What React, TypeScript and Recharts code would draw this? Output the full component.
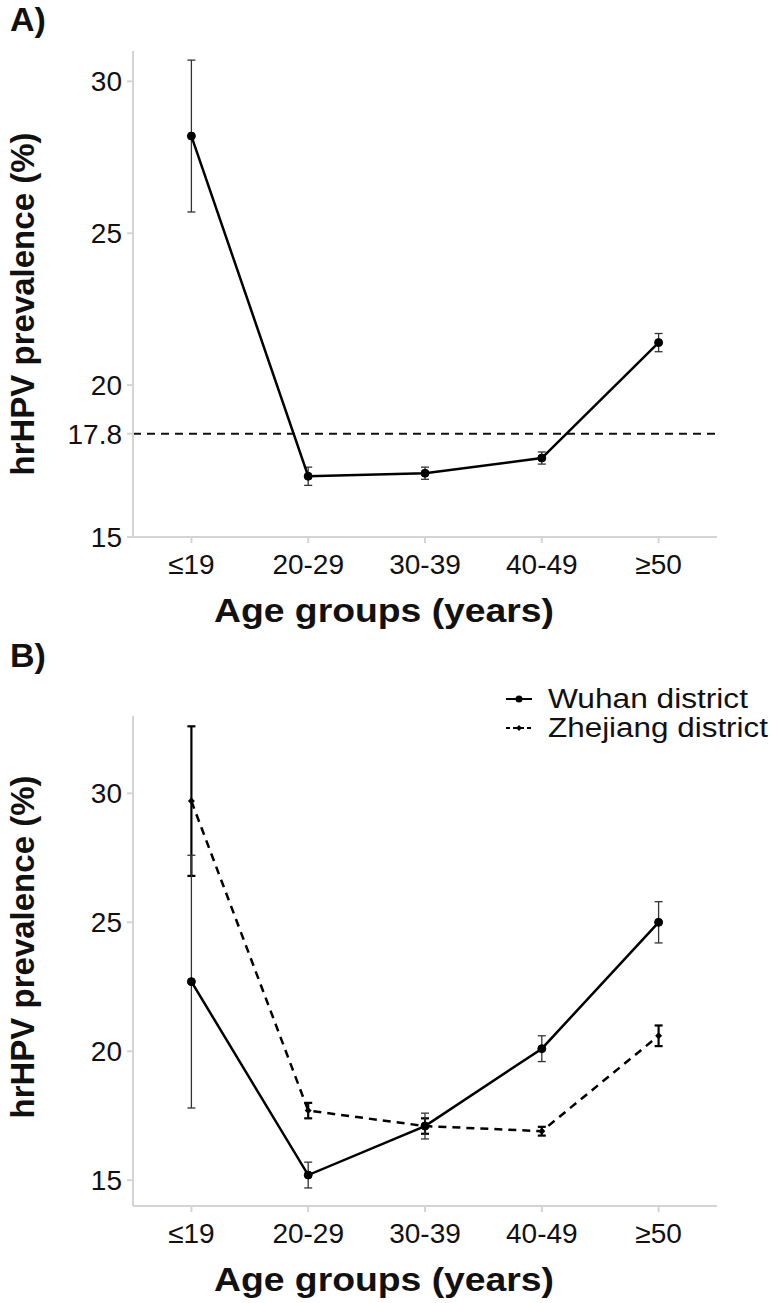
import React from "react";
import {
  ComposedChart,
  Line,
  XAxis,
  YAxis,
  ErrorBar,
  ReferenceLine,
  Legend,
  Label,
} from "recharts";

const ageGroups = ["≤19", "20-29", "30-39", "40-49", "≥50"];

// A) all samples
const overallPrev = [28.2, 17.0, 17.1, 17.6, 21.4];
const overallErr = [2.5, 0.3, 0.2, 0.2, 0.3];
const overallMeanText = "17.8";
const overallMeanPos = 18.4; // height where the dashed line is drawn in the figure

// B) by district
const districtNames = ["Wuhan district", "Zhejiang district"];
const wuhanPrev = [22.7, 15.2, 17.1, 20.1, 25.0];
const wuhanErr = [4.9, 0.5, 0.5, 0.5, 0.8];
const zhejiangPrev = [29.7, 17.7, 17.1, 16.9, 20.6];
const zhejiangErr = [2.9, 0.3, 0.3, 0.17, 0.4];

const ticksA = [15, overallMeanPos, 20, 25, 30];
const ticksB = [15, 20, 25, 30];

const dataA = ageGroups.map((g, i) => ({
  group: g,
  prev: overallPrev[i],
  err: overallErr[i],
}));

const dataB = ageGroups.map((g, i) => ({
  group: g,
  wuhan: wuhanPrev[i],
  wuhanErr: wuhanErr[i],
  zhejiang: zhejiangPrev[i],
  zhejiangErr: zhejiangErr[i],
}));

const FONT = '"Liberation Sans", Arial, Helvetica, sans-serif';
const GREY = "#d4d4d4";
const tickStyle = { fill: "#111", fontSize: 28, fontFamily: FONT };

const Title = ({ text, x, y, angle = 0, len }: any) => (
  <text
    x={x}
    y={y}
    textAnchor="middle"
    dominantBaseline="central"
    transform={angle ? `rotate(${angle} ${x} ${y})` : undefined}
    fontFamily={FONT}
    fontWeight="bold"
    fontSize={33}
    fill="#111"
    textLength={len}
    lengthAdjust={len ? "spacingAndGlyphs" : undefined}
  >
    {text}
  </text>
);

const Diamond = (props: any) => {
  const { cx, cy, index } = props;
  if (cx == null || cy == null) return <g key={`d-${index}`} />;
  const s = 3.5;
  return (
    <path
      key={`d-${index}`}
      d={`M${cx},${cy - s}L${cx + s},${cy}L${cx},${cy + s}L${cx - s},${cy}Z`}
      fill="#000"
    />
  );
};

// legend drawn as svg so the text can be stretched like the figure's
const LegendB = () => (
  <svg width={280} height={62} style={{ display: "block" }}>
    {districtNames.map((name, i) => {
      const y = 15 + i * 29;
      return (
        <g key={name}>
          <line
            x1={6}
            x2={32}
            y1={y}
            y2={y}
            stroke="#000"
            strokeWidth={2}
            strokeDasharray={i === 1 ? "4 3" : undefined}
          />
          {i === 0 ? (
            <circle cx={19} cy={y} r={3.5} fill="#000" />
          ) : (
            <path d={`M19,${y - 3}L22,${y}L19,${y + 3}L16,${y}Z`} fill="#000" />
          )}
          <text
            x={48}
            y={y}
            dominantBaseline="central"
            fontFamily={FONT}
            fontSize={27}
            fill="#111"
            textLength={i === 0 ? 200 : 220}
            lengthAdjust="spacingAndGlyphs"
          >
            {name}
          </text>
        </g>
      );
    })}
  </svg>
);

const PanelLetter = ({ text, top }: { text: string; top: number }) => (
  <div
    style={{
      position: "absolute",
      left: 10,
      top,
      fontFamily: FONT,
      fontWeight: "bold",
      fontSize: 34,
      color: "#111",
    }}
  >
    {text}
  </div>
);

export default function App() {
  return (
    <div style={{ position: "absolute", left: 0, top: 0, width: 772, height: 1303, background: "#fff" }}>
      <PanelLetter text="A)" top={0} />
      <div style={{ position: "absolute", left: 0, top: 0 }}>
        <ComposedChart
          width={772}
          height={640}
          data={dataA}
          margin={{ top: 51, right: 55, bottom: 63, left: 73 }}
        >
          <XAxis
            dataKey="group"
            scale="band"
            height={40}
            tick={tickStyle}
            tickSize={6}
            tickMargin={11}
            axisLine={{ stroke: GREY, strokeWidth: 2 }}
            tickLine={{ stroke: GREY, strokeWidth: 2 }}
          >
            <Label content={() => <Title text="Age groups (years)" x={384} y={610} len={340} />} />
          </XAxis>
          <YAxis
            type="number"
            width={60}
            domain={[15, 31]}
            allowDataOverflow
            ticks={ticksA}
            interval={0}
            tickFormatter={(v: number) => (v === overallMeanPos ? overallMeanText : String(v))}
            tick={tickStyle}
            tickSize={6}
            tickMargin={5}
            axisLine={{ stroke: GREY, strokeWidth: 2 }}
            tickLine={{ stroke: GREY, strokeWidth: 2 }}
          >
            <Label
              content={() => <Title text="hrHPV prevalence (%)" x={22} y={304} angle={-90} />}
            />
          </YAxis>
          <ReferenceLine
            y={overallMeanPos}
            stroke="#111"
            strokeWidth={2}
            strokeDasharray="8 6"
          />
          <Line
            dataKey="prev"
            stroke="#000"
            strokeWidth={2.5}
            dot={{ r: 4, fill: "#000", stroke: "#000", strokeWidth: 1 }}
            isAnimationActive={false}
          >
            <ErrorBar dataKey="err" width={4} stroke="#333" strokeWidth={1.3} direction="y" />
          </Line>
        </ComposedChart>
      </div>

      <PanelLetter text="B)" top={636} />
      <div style={{ position: "absolute", left: 0, top: 640 }}>
        <ComposedChart
          width={772}
          height={663}
          data={dataB}
          margin={{ top: 76, right: 55, bottom: 57, left: 73 }}
        >
          <XAxis
            dataKey="group"
            scale="band"
            height={40}
            tick={tickStyle}
            tickSize={6}
            tickMargin={11}
            axisLine={{ stroke: GREY, strokeWidth: 2 }}
            tickLine={{ stroke: GREY, strokeWidth: 2 }}
          >
            <Label content={() => <Title text="Age groups (years)" x={384} y={639} len={340} />} />
          </XAxis>
          <YAxis
            type="number"
            width={60}
            domain={[14, 33]}
            allowDataOverflow
            ticks={ticksB}
            interval={0}
            tick={tickStyle}
            tickSize={6}
            tickMargin={5}
            axisLine={{ stroke: GREY, strokeWidth: 2 }}
            tickLine={{ stroke: GREY, strokeWidth: 2 }}
          >
            <Label
              content={() => <Title text="hrHPV prevalence (%)" x={22} y={307} angle={-90} />}
            />
          </YAxis>
          <Legend
            layout="vertical"
            align="center"
            verticalAlign="middle"
            content={() => <LegendB />}
            wrapperStyle={{ left: 500, top: 44, right: "auto", bottom: "auto", width: 280 }}
          />
          <Line
            name={districtNames[1]}
            dataKey="zhejiang"
            stroke="#000"
            strokeWidth={2.5}
            strokeDasharray="8 6"
            dot={Diamond}
            isAnimationActive={false}
          >
            <ErrorBar dataKey="zhejiangErr" width={4} stroke="#000" strokeWidth={2.2} direction="y" />
          </Line>
          <Line
            name={districtNames[0]}
            dataKey="wuhan"
            stroke="#000"
            strokeWidth={2.5}
            dot={{ r: 4, fill: "#000", stroke: "#000", strokeWidth: 1 }}
            isAnimationActive={false}
          >
            <ErrorBar dataKey="wuhanErr" width={4} stroke="#333" strokeWidth={1.3} direction="y" />
          </Line>
        </ComposedChart>
      </div>
    </div>
  );
}
